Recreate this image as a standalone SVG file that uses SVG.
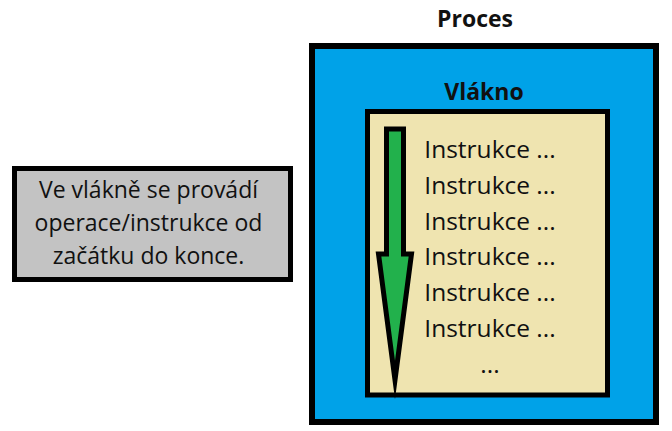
<svg xmlns="http://www.w3.org/2000/svg" width="672" height="431" viewBox="0 0 672 431">
<style>
.box{stroke:#000;stroke-width:5}
.t{font-family:"Open Sans","Liberation Sans",sans-serif;fill:#111;text-anchor:middle}
.b{font-weight:bold;font-size:23px}
.i{font-size:24.5px}
.n{font-size:23px}
</style>
<rect width="672" height="431" fill="#fff"/>
<g id="proces">
<text class="t b" x="475" y="27">Proces</text>
<rect class="box" x="312" y="46" width="344" height="376" fill="#00A2E8" style="stroke-width:6"/>
</g>
<g id="vlakno">
<text class="t b" x="484" y="100">Vlákno</text>
<rect class="box" x="367.5" y="111.5" width="240" height="283.5" fill="#EFE4B0"/>
<g id="instrukce">
<text class="t i" x="490" y="158">Instrukce ...</text>
<text class="t i" x="490" y="194">Instrukce ...</text>
<text class="t i" x="490" y="229.5">Instrukce ...</text>
<text class="t i" x="490" y="265">Instrukce ...</text>
<text class="t i" x="490" y="301">Instrukce ...</text>
<text class="t i" x="490" y="337">Instrukce ...</text>
<text class="t i" x="490" y="373">...</text>
</g>
</g>
<g id="connectors">
<polygon points="386.5,129 403.5,129 403.5,254 411.5,254 395,380 378.5,254 386.5,254" fill="#22B14C" stroke="#000" stroke-width="5" stroke-linejoin="miter" stroke-miterlimit="10"/>
</g>
<g id="popis">
<rect class="box" x="14.5" y="168.5" width="276" height="111" fill="#C3C3C3"/>
<text class="t n" x="148.5" y="198">Ve vlákně se provádí</text>
<text class="t n" x="148.5" y="231">operace/instrukce od</text>
<text class="t n" x="148.5" y="264">začátku do konce.</text>
</g>
</svg>
